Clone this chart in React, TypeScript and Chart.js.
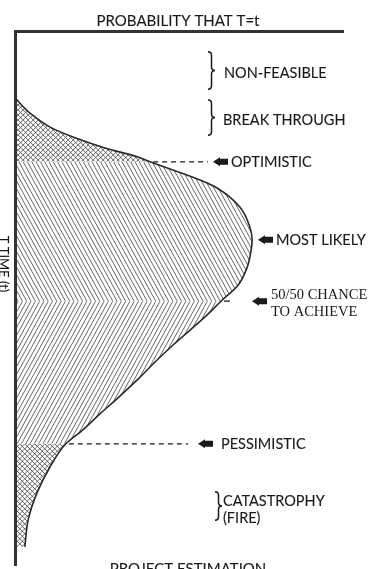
import React, { useEffect, useRef } from 'react';
import { Chart, registerables } from 'chart.js';

Chart.register(...registerables);

// ---- data (relative units: probability 0..100 across, time 0..100 downward) ----
const curveTime = [12.5, 15.4, 18.0, 20.0, 21.9, 23.6, 24.5, 27.9, 29.4, 33.0, 36.7, 39.1, 41.4, 44.4, 47.6, 50.6, 53.2, 56.0, 58.8, 61.8, 65.2, 68.7, 71.7, 74.7, 77.3, 81.6, 86.5, 91.6, 96.6];
const curveProb = [0, 4.6, 10.7, 18.3, 27.4, 37.5, 41.2, 56.4, 61.6, 68.6, 71.6, 72.3, 71.9, 70.7, 68.0, 62.8, 58.5, 53.4, 48.2, 43.0, 37.5, 31.4, 25.9, 20.7, 15.5, 10.7, 6.7, 4.0, 3.0];

const milestoneLabels = [['OPTIMISTIC'], ['MOST LIKELY'], ['50/50 CHANCE', 'TO ACHIEVE'], ['PESSIMISTIC']];
const milestoneTimes = [24.5, 39.1, 50.6, 77.3];

const zoneLabels = [['NON-FEASIBLE'], ['BREAK THROUGH'], ['CATASTROPHY', '(FIRE)']];
const zoneStart = [3.9, 12.9, 86.3];
const zoneEnd = [10.9, 19.5, 91.6];

const xAxisTitle = 'PROBABILITY THAT T=t';
const yAxisTitle = 'T TIME (t)';
const bottomTitle = 'PROJECT ESTIMATION';

// ---- styling / layout (pixels) ----
const INK = '#1a1a1a';
const SANS = 'Lato, "Open Sans", "DejaVu Sans", sans-serif';
const SERIF = '"Liberation Serif", "DejaVu Serif", serif';

const milestoneLayout = [
  { dashTo: 208, arrowX: 213, textX: 231, serif: false },
  { dashTo: null, arrowX: 258, textX: 276, serif: false },
  { dashTo: 235, arrowX: 252, textX: 271, serif: true },
  { dashTo: 188, arrowX: 198, textX: 221, serif: false },
];
const zoneLayout = [
  { braceX: 208, textX: 224 },
  { braceX: 208, textX: 223 },
  { braceX: 215, textX: 223 },
];

let hatchCache: { key: string; pattern: CanvasPattern | null } | null = null;

function buildHatch(chart: any): CanvasPattern | string {
  const w = chart.width;
  const h = chart.height;
  const yS = chart.scales.y;
  const yOpt = yS.getPixelForValue(milestoneTimes[0]);
  const yMid = yS.getPixelForValue(milestoneTimes[2]);
  const yPes = yS.getPixelForValue(milestoneTimes[3]);
  const key = [w, h, yOpt, yMid, yPes].join(',');
  if (hatchCache && hatchCache.key === key && hatchCache.pattern) return hatchCache.pattern;
  const c = document.createElement('canvas');
  c.width = w;
  c.height = h;
  const g = c.getContext('2d')!;
  g.strokeStyle = '#4d4d4d';
  g.lineWidth = 0.85;

  const cross = (y0: number, y1: number) => {
    g.save();
    g.beginPath();
    g.rect(0, y0, w, y1 - y0);
    g.clip();
    g.beginPath();
    const s = 5;
    const span = y1 - y0;
    for (let k = -span - s; k < w + span + s; k += s) {
      g.moveTo(k, y0);
      g.lineTo(k + span, y1);
      g.moveTo(k, y0);
      g.lineTo(k - span, y1);
    }
    g.stroke();
    g.restore();
  };
  const diag = (y0: number, y1: number, dir: number) => {
    g.save();
    g.beginPath();
    g.rect(0, y0, w, y1 - y0);
    g.clip();
    g.beginPath();
    const m = 0.55;
    const s = 4.3;
    const reach = m * h + s;
    for (let k = -reach; k < w + reach; k += s) {
      g.moveTo(k + dir * m * (y0 - yMid), y0);
      g.lineTo(k + dir * m * (y1 - yMid), y1);
    }
    g.stroke();
    g.restore();
  };
  cross(0, yOpt);
  diag(yOpt, yMid, 1);
  diag(yMid, yPes, -1);
  cross(yPes, h);
  const pattern = g.createPattern(c, 'no-repeat');
  hatchCache = { key, pattern };
  return pattern || '#999';
}

function drawArrow(ctx: CanvasRenderingContext2D, x: number, y: number) {
  ctx.beginPath();
  ctx.moveTo(x, y);
  ctx.lineTo(x + 7, y - 4.5);
  ctx.lineTo(x + 7, y - 3);
  ctx.lineTo(x + 15, y - 3);
  ctx.lineTo(x + 15, y + 3);
  ctx.lineTo(x + 7, y + 3);
  ctx.lineTo(x + 7, y + 4.5);
  ctx.closePath();
  ctx.fill();
}

function drawBrace(ctx: CanvasRenderingContext2D, x: number, y0: number, y1: number) {
  const ym = (y0 + y1) / 2;
  const d = 3.5;
  ctx.beginPath();
  ctx.moveTo(x, y0);
  ctx.quadraticCurveTo(x + d, y0, x + d, y0 + d);
  ctx.lineTo(x + d, ym - d);
  ctx.quadraticCurveTo(x + d, ym, x + 2 * d, ym);
  ctx.quadraticCurveTo(x + d, ym, x + d, ym + d);
  ctx.lineTo(x + d, y1 - d);
  ctx.quadraticCurveTo(x + d, y1, x, y1);
  ctx.stroke();
}

function text(ctx: CanvasRenderingContext2D, s: string, x: number, y: number) {
  ctx.fillText(s, x, y);
  ctx.save();
  ctx.lineWidth = 0.12;
  ctx.strokeText(s, x, y);
  ctx.restore();
}

const annotate = {
  id: 'annotate',
  afterDraw(chart: any) {
    const ctx: CanvasRenderingContext2D = chart.ctx;
    const yS = chart.scales.y;
    const meta = chart.getDatasetMeta(0);
    ctx.save();
    ctx.fillStyle = INK;
    ctx.strokeStyle = INK;

    // titles
    ctx.font = `15px ${SANS}`;
    ctx.textAlign = 'center';
    ctx.textBaseline = 'alphabetic';
    text(ctx, xAxisTitle, 178, 26);
    text(ctx, bottomTitle, 188, 574);

    ctx.save();
    ctx.translate(-1, 264);
    ctx.rotate(Math.PI / 2);
    ctx.font = `13px ${SANS}`;
    text(ctx, yAxisTitle, 0, 0);
    ctx.restore();

    // milestones
    milestoneTimes.forEach((t, i) => {
      const py = yS.getPixelForValue(t);
      const lay = milestoneLayout[i];
      const idx = curveTime.indexOf(t);
      const curveX = idx >= 0 ? meta.data[idx].x : chart.chartArea.left;
      if (lay.dashTo !== null) {
        ctx.save();
        ctx.lineWidth = 1.3;
        ctx.setLineDash(i === 2 ? [6, 5] : [5, 4]);
        ctx.beginPath();
        ctx.moveTo(curveX + 3, py);
        ctx.lineTo(lay.dashTo, py);
        ctx.stroke();
        ctx.restore();
      }
      drawArrow(ctx, lay.arrowX, py);
      ctx.textAlign = 'left';
      ctx.textBaseline = 'alphabetic';
      const lines = milestoneLabels[i];
      if (lay.serif) {
        ctx.font = `14.5px ${SERIF}`;
        ctx.fillText(lines[0], lay.textX, py - 2);
        ctx.fillText(lines[1], lay.textX, py + 15);
      } else {
        ctx.font = `14.5px ${SANS}`;
        text(ctx, lines[0], lay.textX, py + 5.5);
      }
    });

    // zones with braces
    zoneLabels.forEach((lines, i) => {
      const y0 = yS.getPixelForValue(zoneStart[i]);
      const y1 = yS.getPixelForValue(zoneEnd[i]);
      const lay = zoneLayout[i];
      ctx.lineWidth = 1.5;
      drawBrace(ctx, lay.braceX, y0, y1);
      ctx.font = `14.5px ${SANS}`;
      ctx.textAlign = 'left';
      ctx.textBaseline = 'alphabetic';
      const ym = (y0 + y1) / 2;
      if (lines.length === 1) {
        text(ctx, lines[0], lay.textX, ym + 7);
      } else {
        text(ctx, lines[0], lay.textX, ym);
        text(ctx, lines[1], lay.textX, ym + 17);
      }
    });
    ctx.restore();
  },
};

export default function App() {
  const ref = useRef<HTMLCanvasElement | null>(null);
  useEffect(() => {
    if (!ref.current) return;
    const chart = new Chart(ref.current, {
      type: 'line',
      data: {
        datasets: [
          {
            data: curveTime.map((t, i) => ({ x: curveProb[i], y: t })),
            borderColor: '#2a2a2a',
            borderWidth: 1.6,
            pointRadius: 0,
            fill: 'origin',
            cubicInterpolationMode: 'monotone',
            backgroundColor: (c: any) => {
              const ch = c.chart;
              if (!ch.chartArea) return 'rgba(0,0,0,0)';
              return buildHatch(ch);
            },
          } as any,
        ],
      },
      options: {
        indexAxis: 'y',
        responsive: false,
        animation: false,
        events: [],
        layout: { padding: { left: 15, top: 31, right: 31, bottom: 4 } },
        plugins: { legend: { display: false }, tooltip: { enabled: false } },
        scales: {
          x: {
            type: 'linear',
            position: 'top',
            min: 0,
            max: 100,
            grid: { display: false, drawTicks: false },
            ticks: { display: false },
            border: { display: true, width: 3, color: '#333', z: 1 },
          },
          y: {
            type: 'linear',
            position: 'left',
            min: 0,
            max: 100,
            reverse: true,
            grid: { display: false, drawTicks: false },
            ticks: { display: false },
            border: { display: true, width: 3, color: '#333', z: 1 },
          },
        },
      } as any,
      plugins: [annotate],
    });
    return () => chart.destroy();
  }, []);
  return (
    <div style={{ position: 'absolute', left: 0, top: 0, width: 374, height: 569, background: '#fff' }}>
      <canvas ref={ref} width={374} height={569} style={{ display: 'block' }} />
    </div>
  );
}
